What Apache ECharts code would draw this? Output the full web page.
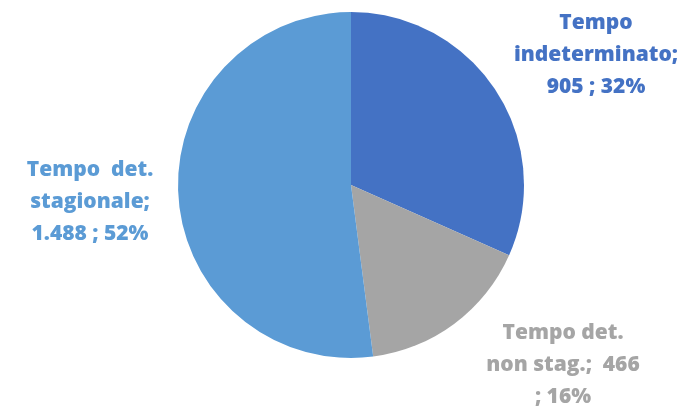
<!DOCTYPE html>
<html>
<head>
<meta charset="utf-8">
<script src="https://cdn.jsdelivr.net/npm/echarts@6/dist/echarts.min.js"></script>
<style>
  html, body { margin: 0; padding: 0; background: #ffffff; }
  #chart { width: 692px; height: 412px; }
</style>
</head>
<body>
<div id="chart"></div>
<script>
// Contract types and headcounts
const categories = ['Tempo indeterminato', 'Tempo det. non stag.', 'Tempo det. stagionale'];
const values = [905, 466, 1488];
const colors = ['#4472C4', '#A5A5A5', '#5B9BD5'];
// Label text lines for each slice ({v} = value, {p} = percent)
const labelLines = [
  ['Tempo', 'indeterminato;', '{v} ; {p}%'],
  ['Tempo det.', 'non stag.;  {v}', '; {p}%'],
  ['Tempo  det.', 'stagionale;', '{v} ; {p}%']
];
// Where each label block is centred
const labelAnchors = [[596, 55], [563, 365], [90, 202]];

function fmtNumber(n) {
  return String(n).replace(/\B(?=(\d{3})+(?!\d))/g, '.');
}

const chart = echarts.init(document.getElementById('chart'), null, { renderer: 'canvas' });

chart.setOption({
  animation: false,
  series: [{
    type: 'pie',
    center: [351, 185],
    radius: 173,
    startAngle: 90,
    clockwise: true,
    data: categories.map((c, i) => ({
      name: c,
      value: values[i],
      itemStyle: { color: colors[i] },
      label: { color: colors[i] }
    })),
    label: {
      show: true,
      position: 'outside',
      fontFamily: 'Open Sans',
      fontWeight: 800,
      fontSize: 21,
      lineHeight: 32,
      align: 'center',
      overflow: 'none',
      width: 300,
      formatter: function (p) {
        const pct = Math.round(p.percent);
        return labelLines[p.dataIndex]
          .map(l => l.replace('{v}', fmtNumber(p.value)).replace('{p}', pct))
          .join('\n');
      }
    },
    labelLine: { show: false },
    labelLayout: function (params) {
      const a = labelAnchors[params.dataIndex];
      return { x: a[0], y: a[1], align: 'center', verticalAlign: 'middle', hideOverlap: false, moveOverlap: false };
    },
    emphasis: { disabled: true }
  }]
});
</script>
</body>
</html>
